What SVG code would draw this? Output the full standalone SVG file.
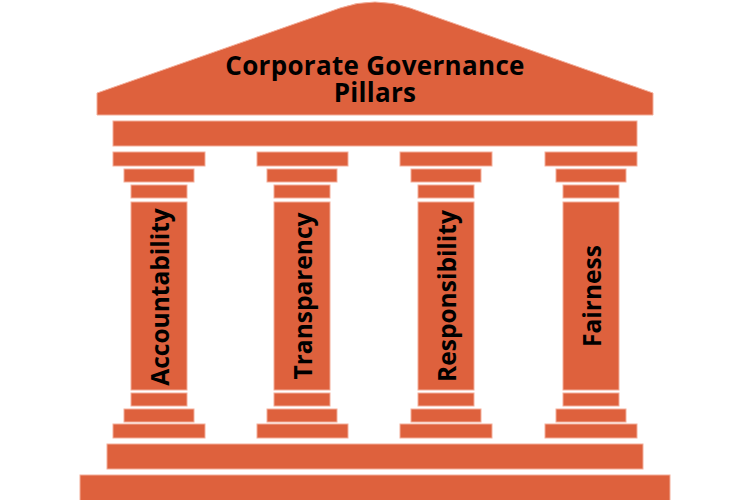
<svg xmlns="http://www.w3.org/2000/svg" width="750" height="500" viewBox="0 0 750 500">
<style>
.b{fill:#DE613D;stroke:#F3AE9A;stroke-width:1}
.t{font-family:"Open Sans","Noto Sans","Liberation Sans",sans-serif;font-weight:bold;fill:#000}
.v{font-size:24.5px;text-anchor:middle}
</style>
<rect width="750" height="500" fill="#fff"/>
<g id="roof">
<path class="b" d="M97,93 L340,8 Q375,-4 410,8 L653,93 L653,115 L97,115 Z"/>
<text class="t" x="375" y="75" font-size="26" text-anchor="middle" letter-spacing="0.3">Corporate Governance</text>
<text class="t" x="375" y="102" font-size="26" text-anchor="middle" letter-spacing="0.3">Pillars</text>
</g>
<g id="entablature"><rect class="b" x="113" y="121" width="524" height="25"/></g>
<g id="pillar1">
<rect class="b" x="113" y="152" width="92" height="14"/>
<rect class="b" x="124" y="169" width="70" height="13"/>
<rect class="b" x="131" y="185" width="56" height="13"/>
<rect class="b" x="131" y="202" width="56" height="188"/>
<rect class="b" x="131" y="393" width="56" height="13"/>
<rect class="b" x="124" y="409" width="70" height="13"/>
<rect class="b" x="113" y="424" width="92" height="14"/>
<text class="t v" dy="0.35em" transform="translate(160,297) rotate(-90)">Accountability</text>
</g>
<g id="pillar2">
<rect class="b" x="257" y="152" width="91" height="14"/>
<rect class="b" x="267" y="169" width="70" height="13"/>
<rect class="b" x="274" y="185" width="56" height="13"/>
<rect class="b" x="274" y="202" width="56" height="188"/>
<rect class="b" x="274" y="393" width="56" height="13"/>
<rect class="b" x="267" y="409" width="70" height="13"/>
<rect class="b" x="257" y="424" width="91" height="14"/>
<text class="t v" dy="0.35em" transform="translate(303,296) rotate(-90)">Transparency</text>
</g>
<g id="pillar3">
<rect class="b" x="400" y="152" width="92" height="14"/>
<rect class="b" x="411" y="169" width="70" height="13"/>
<rect class="b" x="418" y="185" width="56" height="13"/>
<rect class="b" x="418" y="202" width="56" height="188"/>
<rect class="b" x="418" y="393" width="56" height="13"/>
<rect class="b" x="411" y="409" width="70" height="13"/>
<rect class="b" x="400" y="424" width="92" height="14"/>
<text class="t v" dy="0.35em" transform="translate(447,296) rotate(-90)">Responsibility</text>
</g>
<g id="pillar4">
<rect class="b" x="545" y="152" width="92" height="14"/>
<rect class="b" x="556" y="169" width="70" height="13"/>
<rect class="b" x="563" y="185" width="56" height="13"/>
<rect class="b" x="563" y="202" width="56" height="188"/>
<rect class="b" x="563" y="393" width="56" height="13"/>
<rect class="b" x="556" y="409" width="70" height="13"/>
<rect class="b" x="545" y="424" width="92" height="14"/>
<text class="t v" dy="0.35em" transform="translate(592,296) rotate(-90)">Fairness</text>
</g>
<g id="base">
<rect class="b" x="107" y="444" width="536" height="25"/>
<rect class="b" x="80" y="475" width="590" height="26"/>
</g>
</svg>
